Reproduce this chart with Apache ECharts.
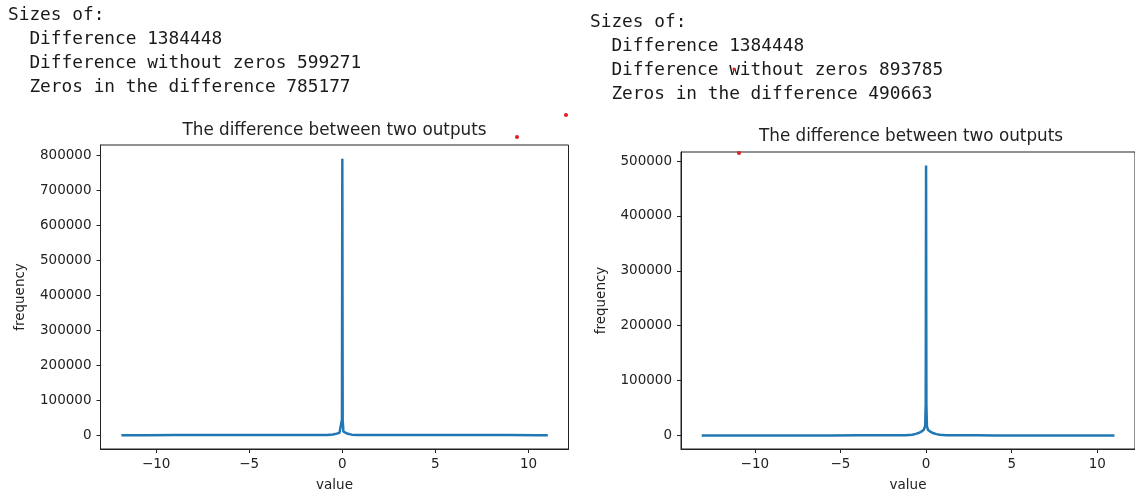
<!DOCTYPE html>
<html>
<head>
<meta charset="utf-8">
<script src="https://cdn.jsdelivr.net/npm/echarts@6/dist/echarts.min.js"></script>
<style>
  html, body { margin: 0; padding: 0; background: #fff; }
  #main { width: 1135px; height: 497px; }
</style>
</head>
<body>
<div id="main"></div>
<script>
// printed sizes above each plot
var leftInfo = ['Sizes of:', '  Difference 1384448', '  Difference without zeros 599271', '  Zeros in the difference 785177'];
var rightInfo = ['Sizes of:', '  Difference 1384448', '  Difference without zeros 893785', '  Zeros in the difference 490663'];
var plotTitle = 'The difference between two outputs';

// histogram of the difference (bin centre -> count), left run
var leftX = [-11.87, -10.5, -9, -7.5, -6, -4.5, -3, -2, -1.2, -0.8, -0.5, -0.3, -0.15, -0.06, -0.02, 0, 0.02, 0.06, 0.15, 0.3, 0.5, 0.8, 1.2, 2, 3, 4.5, 6, 7.5, 9, 10.5, 11.04];
var leftY = [150, 160, 180, 200, 220, 250, 280, 320, 400, 700, 1800, 4500, 7000, 11000, 45000, 790000, 42000, 10000, 6500, 4000, 1500, 600, 350, 300, 260, 230, 210, 190, 170, 150, 140];

// right run
var rightX = [-13.1, -11.5, -10, -8.5, -7, -5.5, -4, -3, -2, -1.2, -0.8, -0.6, -0.4, -0.25, -0.12, -0.05, -0.02, 0, 0.02, 0.05, 0.12, 0.25, 0.4, 0.6, 0.8, 1.2, 2, 3, 4, 5.5, 7, 8.5, 10, 11.0];
var rightY = [120, 130, 150, 170, 200, 220, 250, 290, 350, 600, 1500, 3000, 5000, 7500, 11000, 18000, 58000, 492000, 55000, 17000, 10000, 7000, 4500, 2500, 1200, 500, 330, 260, 220, 190, 160, 150, 140, 130];

var xTicks = [-10, -5, 0, 5, 10];
var leftYTicks = [0, 100000, 200000, 300000, 400000, 500000, 600000, 700000, 800000];
var rightYTicks = [0, 100000, 200000, 300000, 400000, 500000];

function pairs(xs, ys) {
    return xs.map(function (x, i) { return [x, ys[i]]; });
}

function plain(v) {
    return String(v).replace('-', '\u2212');
}

var ink = '#222';
var tickFont = { color: ink, fontFamily: 'DejaVu Sans', fontSize: 13.5 };

function xAxisFor(gridIndex, min, max) {
    return {
        type: 'value', gridIndex: gridIndex, min: min, max: max,
        name: 'value', nameLocation: 'middle', nameGap: 29,
        nameTextStyle: tickFont,
        axisLine: { show: true, onZero: false, lineStyle: { color: ink, width: 1 } },
        axisTick: { show: true, length: 4, lineStyle: { color: ink }, customValues: xTicks },
        axisLabel: Object.assign({ margin: 8, customValues: xTicks, formatter: plain }, tickFont),
        splitLine: { show: false }
    };
}

function yAxisFor(gridIndex, min, max, ticks) {
    return {
        type: 'value', gridIndex: gridIndex, min: min, max: max,
        name: 'frequency', nameLocation: 'middle', nameGap: 73, nameRotate: 90,
        nameTextStyle: tickFont,
        axisLine: { show: true, onZero: false, lineStyle: { color: ink, width: 1 } },
        axisTick: { show: true, length: 4, lineStyle: { color: ink }, customValues: ticks },
        axisLabel: Object.assign({ margin: 9, customValues: ticks, formatter: plain }, tickFont),
        splitLine: { show: false }
    };
}

var monoFont = '17.8px "DejaVu Sans Mono"';
var titleFont = '16.8px "DejaVu Sans"';

var option = {
    backgroundColor: '#fff',
    animation: false,
    grid: [
        { left: 100.5, top: 145, width: 468, height: 305, show: true, borderColor: ink, borderWidth: 1 },
        { left: 681, top: 152, width: 460, height: 300, show: true, borderColor: ink, borderWidth: 1 }
    ],
    xAxis: [xAxisFor(0, -12.99, 12.15), xAxisFor(1, -14.31, 12.2)],
    yAxis: [yAxisFor(0, -39500, 829500, leftYTicks), yAxisFor(1, -24600, 516600, rightYTicks)],
    series: [
        {
            type: 'line', xAxisIndex: 0, yAxisIndex: 0,
            data: pairs(leftX, leftY), showSymbol: false,
            lineStyle: { color: '#1f77b4', width: 2.5 }
        },
        {
            type: 'line', xAxisIndex: 1, yAxisIndex: 1,
            data: pairs(rightX, rightY), showSymbol: false,
            lineStyle: { color: '#1f77b4', width: 2.5 }
        }
    ],
    graphic: [
        { type: 'text', left: 8, top: 3, style: { text: leftInfo.join('\n'), font: monoFont, lineHeight: 24, fill: '#1a1a1a' } },
        { type: 'text', left: 590, top: 10, style: { text: rightInfo.join('\n'), font: monoFont, lineHeight: 24, fill: '#1a1a1a' } },
        { type: 'text', x: 334.5, y: 131, style: { text: plotTitle, font: titleFont, fill: ink, align: 'center', verticalAlign: 'middle' } },
        { type: 'text', x: 911, y: 137, style: { text: plotTitle, font: titleFont, fill: ink, align: 'center', verticalAlign: 'middle' } },
        // stray red dots in the screenshot
        { type: 'circle', shape: { cx: 566, cy: 115, r: 2 }, style: { fill: '#e02020' } },
        { type: 'circle', shape: { cx: 517, cy: 137, r: 2 }, style: { fill: '#e02020' } },
        { type: 'circle', shape: { cx: 739, cy: 153, r: 2 }, style: { fill: '#e02020' } },
        { type: 'circle', shape: { cx: 734, cy: 69, r: 1.5 }, style: { fill: '#e02020' } }
    ]
};

var myChart = echarts.init(document.getElementById('main'));
myChart.setOption(option);
</script>
</body>
</html>
